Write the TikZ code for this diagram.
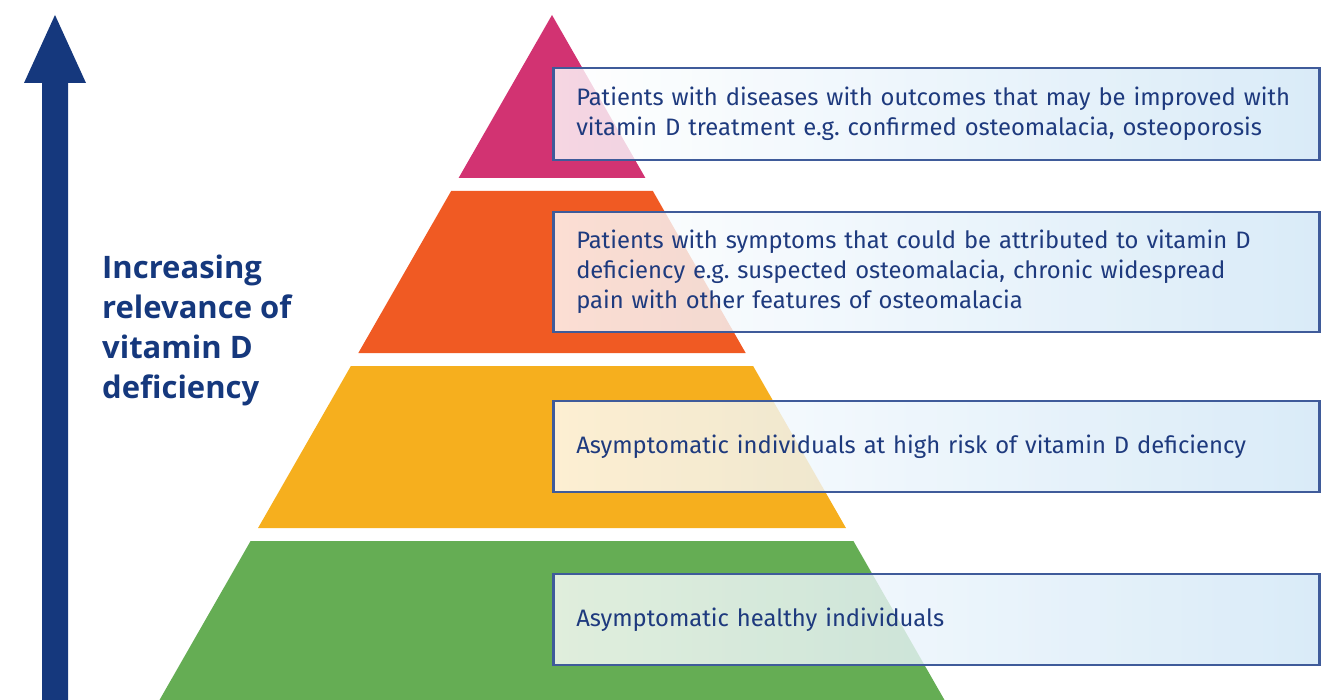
\documentclass[tikz,border=0pt]{standalone}
\usepackage{fontspec}
\setmainfont{Fira Sans}
\newfontfamily\labelfont{Open Sans}
\usetikzlibrary{positioning}
\frenchspacing
\definecolor{navy}{HTML}{15387D}
\definecolor{boxline}{HTML}{3F5B9A}
\definecolor{boxblue}{HTML}{D0E6F6}
\definecolor{boxtext}{HTML}{1E3A7E}
\definecolor{topmag}{HTML}{D23372}
\definecolor{midorange}{HTML}{F05A23}
\definecolor{lowyellow}{HTML}{F6AF1E}
\definecolor{basegreen}{HTML}{65AD54}
\tikzset{
  infobox/.style = {draw = boxline, line width = 2.5pt, left color = white, right color = boxblue,
    fill opacity = 0.8, draw opacity = 1, text opacity = 1, text = boxtext, anchor = west,
    minimum width = 766pt, inner xsep = 23pt, text width = 720pt, align = left,
    font = \fontsize{23.8}{30}\selectfont},
  relevance/.style = {anchor = north west, inner sep = 0pt, text = navy, align = left,
    font = \labelfont\bfseries\fontsize{31}{40}\selectfont}
}
\begin{document}
\begin{tikzpicture}[x=1pt,y=-1pt]
            \useasboundingbox (0,0) rectangle (1335,700);
            \clip (0,0) rectangle (1335,700);
            \pgfmathsetmacro{\ax}{552};
            \pgfmathsetmacro{\ay}{15};
            \pgfmathsetmacro{\k}{0.573};
            \foreach \yu/\yd/\col in {15/178/topmag, 191/353/midorange, 366/528/lowyellow, 541/700/basegreen}
              \fill [\col] ({\ax-\k*(\yu-\ay)},\yu) -- ({\ax+\k*(\yu-\ay)},\yu) -- ({\ax+\k*(\yd-\ay)},\yd) -- ({\ax-\k*(\yd-\ay)},\yd) -- cycle;
            \fill [navy] (42,700) -- (42,83) -- (24,83) -- (55,15) -- (86,83) -- (68,83) -- (68,700) -- cycle;
            \node [relevance] (label) at (102,255) {Increasing\\relevance of\\vitamin D\\deficiency};
            \node [infobox, minimum height = 92pt] (diseases) at (552,114) {Patients with diseases with outcomes that may be improved with\\vitamin D treatment e.g. confirmed osteomalacia, osteoporosis};
            \node [infobox, minimum height = 120pt] (symptoms) at (552,272) {Patients with symptoms that could be attributed to vitamin D\\deficiency e.g. suspected osteomalacia, chronic widespread\\pain with other features of osteomalacia};
            \node [infobox, minimum height = 91pt] (highrisk) at (552,446.5) {Asymptomatic individuals at high risk of vitamin D deficiency};
            \node [infobox, minimum height = 91pt] (healthy) at (552,619.5) {Asymptomatic healthy individuals};
        \end{tikzpicture}
\end{document}
